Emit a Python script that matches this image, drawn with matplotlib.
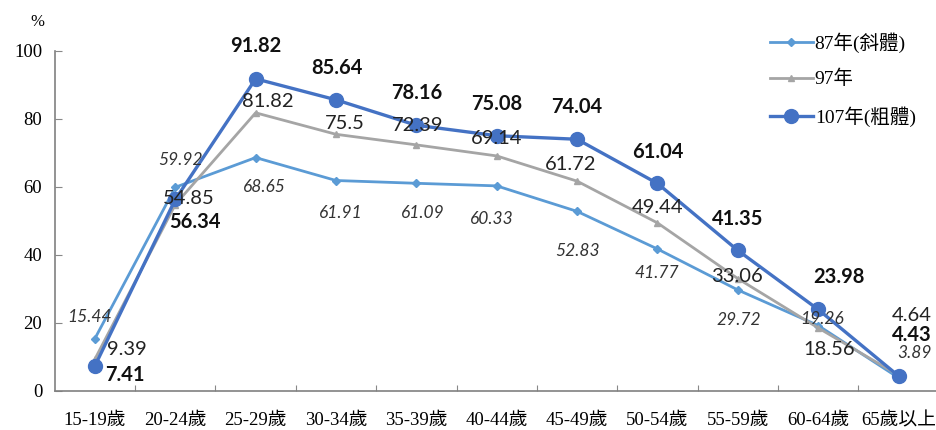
import matplotlib
matplotlib.use("Agg")
import matplotlib.pyplot as plt
import numpy as np

# age groups and labour participation rates (%)
ages = ["15-19歲", "20-24歲", "25-29歲", "30-34歲", "35-39歲", "40-44歲",
        "45-49歲", "50-54歲", "55-59歲", "60-64歲", "65歲以上"]
y87 = [15.44, 59.92, 68.65, 61.91, 61.09, 60.33, 52.83, 41.77, 29.72, 19.26, 3.89]
y97 = [9.39, 54.85, 81.82, 75.5, 72.39, 69.14, 61.72, 49.44, 33.06, 18.56, 4.64]
y107 = [7.41, 56.34, 91.82, 85.64, 78.16, 75.08, 74.04, 61.04, 41.35, 23.98, 4.43]
names = ["87年(斜體)", "97年", "107年(粗體)"]

# label offsets in pixels (dx, dy)
off87 = [(-5, 22), (5, 27), (9, -29), (5, -32), (6, -30), (-5, -33),
         (0, -40), (-1, -24), (1, -30), (4, 7), (16, 25)]
off97 = [(32, 10), (13, 6), (12, 11), (9, 11), (1, 19), (0, 17),
         (-6, 17), (0, 15), (-1, 2), (11, -22), (13, 60)]
off107 = [(30, -9), (20, -23), (0, 33), (1, 32), (0, 32), (0, 32),
          (0, 32), (0, 31), (0, 31), (21, 32), (13, 41)]

C87, C97, C107 = "#5b9bd5", "#a5a5a5", "#4472c4"
SERIF = ["Liberation Serif", "Noto Sans CJK TC"]
LBL = "Lato"

fig = plt.figure(figsize=(9.36, 4.3), dpi=100)
ax = fig.add_axes([0.0585, 0.0907, 0.9444, 0.7907])
x = np.arange(len(ages))

ax.plot(x, y87, "-D", color=C87, lw=2, ms=4, label=names[0], zorder=3)
ax.plot(x, y97, "-^", color=C97, lw=2, ms=5, label=names[1], zorder=4)
ax.plot(x, y107, "-o", color=C107, lw=2.4, ms=10, label=names[2], zorder=5)

for vals, offs, kw in [
        (y87, off87, dict(fontstyle="italic", fontsize=12.5, color="#333333")),
        (y97, off97, dict(fontsize=14.5, color="#222222")),
        (y107, off107, dict(fontweight="bold", fontsize=14.5, color="#111111"))]:
    for i, v in enumerate(vals):
        ax.annotate(f"{v:g}", (i, v), xytext=offs[i], textcoords="offset pixels",
                    ha="center", va="center", family=LBL, zorder=6,
                    annotation_clip=False, **kw)

ax.set_xlim(-0.5, len(ages) - 0.5)
ax.set_ylim(0, 100)
ax.set_yticks(range(0, 101, 20))
ax.set_xticks(np.arange(0.5, len(ages) - 0.5, 1))
ax.set_xticklabels([])
ax.set_xticks(x, minor=True)
ax.set_xticklabels(ages, minor=True, family=SERIF, fontsize=13.5)
ax.tick_params(axis="x", which="major", direction="in", length=4, color="#888888")
ax.tick_params(axis="x", which="minor", length=0, pad=15)
ax.tick_params(axis="y", direction="in", length=5, color="#888888", pad=9, labelsize=13.5)
for t in ax.get_yticklabels():
    t.set_family(SERIF)
for s in ["top", "right"]:
    ax.spines[s].set_visible(False)
for s in ["left", "bottom"]:
    ax.spines[s].set_color("#808080")
    ax.spines[s].set_linewidth(1.2)

fig.text(37 / 936, 1 - 22 / 430, "%", family=SERIF, fontsize=12, ha="center", va="center")

leg = fig.legend(loc="upper left", bbox_to_anchor=(770 / 936, 1 - 32 / 430),
                 frameon=False, borderpad=0, borderaxespad=0, handlelength=2.2,
                 handletextpad=0.1, labelspacing=0.9, prop={"family": SERIF, "size": 14})

fig.savefig("out.png", dpi=100)
